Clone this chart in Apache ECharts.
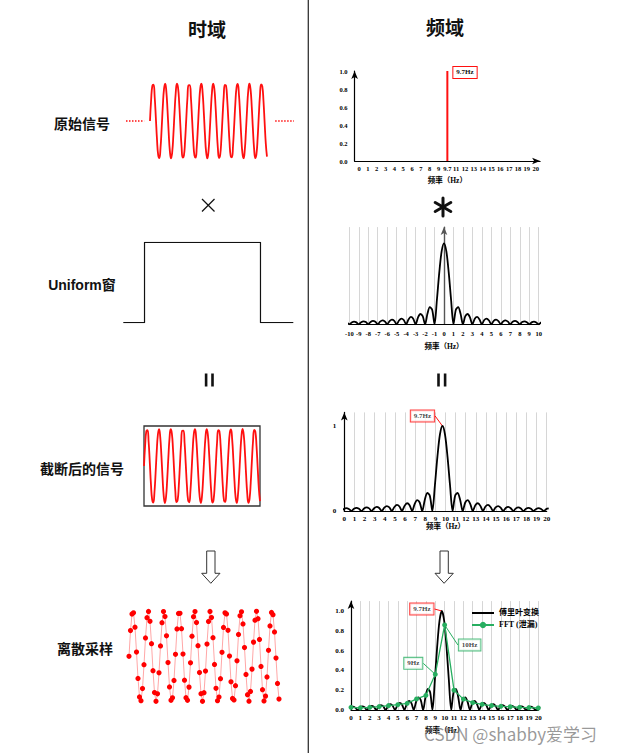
<!DOCTYPE html>
<html>
<head>
<meta charset="utf-8">
<script src="https://cdn.jsdelivr.net/npm/echarts@6/dist/echarts.min.js"></script>
<style>html,body{margin:0;padding:0;background:#fff}#c{width:639px;height:753px}</style>
</head>
<body>
<div id="c"></div>
<script>
// ---------- DATA ----------
// 9.7 Hz signal sampled at 100 Hz over 1 s (101 samples), read from the "离散采样" panel
const signalSamples = [
  0, 0.572, 0.939, 0.967, 0.647, 0.094, -0.493, -0.902, -0.987, -0.716,
  -0.187, 0.409, 0.857, 0.998, 0.778, 0.279, -0.321, -0.805, -1.000, -0.834,
  -0.368, 0.230, 0.746, 0.993, 0.882, 0.454, -0.138, -0.680, -0.977, -0.923,
  -0.536, 0.044, 0.608, 0.953, 0.955, 0.613, 0.050, -0.531, -0.920, -0.979,
  -0.685, -0.144, 0.448, 0.879, 0.994, 0.750, 0.237, -0.362, -0.831, -1.000,
  -0.809, -0.327, 0.273, 0.774, 0.997, 0.861, 0.414, -0.181, -0.712, -0.986,
  -0.905, -0.498, 0.088, 0.642, 0.965, 0.941, 0.577, 0.006, -0.567, -0.937,
  -0.969, -0.652, -0.100, 0.487, 0.899, 0.988, 0.720, 0.194, -0.403, -0.854,
  -0.998, -0.782, -0.285, 0.315, 0.802, 1.000, 0.837, 0.374, -0.224, -0.742,
  -0.992, -0.885, -0.460, 0.132, 0.675, 0.976, 0.925, 0.541, -0.038, -0.603,
  -0.951
];
// dotted "……" continuation of the infinite original signal (sample units)
const leadInX = [-20.5, -5];
const leadOutX = [107, 123];
// Uniform window (sample units) and its level
const windowT = [-18.3, 0, 0, 100, 100, 128.3];
const windowV = [0, 0, 1, 1, 0, 0];

// Spectrum of the original signal
const signalFreq = 9.7;
const spectrumTicks = ['0','1','2','3','4','5','6','7','8','9','9.7','11','12','13','14','15','16','17','18','19','20'];
const lineSpectrum = [0,0,0,0,0,0,0,0,0,0,1,0,0,0,0,0,0,0,0,0,0];

// Spectrum of the uniform window (|sinc|), offset in Hz from the peak
const sincOffset = [
  -10.5,-10.25,-10,-9.75,-9.5,-9.25,-9,-8.75,-8.5,-8.25,-8,-7.75,-7.5,-7.25,-7,-6.75,-6.5,-6.25,-6,-5.75,-5.5,-5.25,-5,
  -4.75,-4.5,-4.25,-4,-3.75,-3.5,-3.25,-3,-2.75,-2.5,-2.25,-2,-1.75,-1.5,-1.25,-1,-0.75,-0.5,-0.25,
  0,
  0.25,0.5,0.75,1,1.25,1.5,1.75,2,2.25,2.5,2.75,3,3.25,3.5,3.75,4,4.25,4.5,4.75,
  5,5.25,5.5,5.75,6,6.25,6.5,6.75,7,7.25,7.5,7.75,8,8.25,8.5,8.75,9,9.25,9.5,9.75,10,10.25,10.5
];
const sincAmp = [
  0.030,0.022,0,0.023,0.034,0.024,0,0.026,0.037,0.027,0,0.029,0.042,0.031,0,0.033,0.049,0.036,0,0.039,0.058,0.043,0,
  0.047,0.071,0.053,0,0.060,0.091,0.069,0,0.082,0.127,0.100,0,0.129,0.212,0.180,0,0.300,0.637,0.900,
  1,
  0.900,0.637,0.300,0,0.180,0.212,0.129,0,0.100,0.127,0.082,0,0.069,0.091,0.060,0,0.053,0.071,0.047,
  0,0.043,0.058,0.039,0,0.036,0.049,0.033,0,0.031,0.042,0.029,0,0.027,0.037,0.026,0,0.024,0.034,0.023,0,0.022,0.030
];

// FFT bins (leakage)
const fftFreq = [0,1,2,3,4,5,6,7,8,9,10,11,12,13,14,15,16,17,18,19,20];
const fftAmp = [0.027,0.022,0.027,0.034,0.044,0.054,0.067,0.112,0.148,0.36,0.859,0.200,0.110,0.074,0.057,0.045,0.037,0.033,0.027,0.024,0.020];

// ---------- CHART ----------
const chart = echarts.init(document.getElementById('c'), null, {renderer: 'svg', width: 639, height: 753});
const serif = "'Liberation Serif','Times New Roman','Noto Sans CJK SC',serif";
const sans = "'Liberation Sans','Noto Sans CJK SC',sans-serif";
const cjk = "'Noto Sans CJK SC','Liberation Sans',sans-serif";
const RED = '#ff1010';
const GREEN = '#27ae60';

const samplePairs = signalSamples.map((v, i) => [i, v]);
const sincPairs = sincOffset.map((o, i) => [o, sincAmp[i]]);
const shiftedSinc = sincOffset.map((o, i) => [signalFreq + o, sincAmp[i]]);
const fftPairs = fftFreq.map((f, i) => [f, fftAmp[i]]);

const hidden = {show: false};
function hiddenAxis(gi, min, max) {
  return {gridIndex: gi, type: 'value', min: min, max: max, show: false, splitLine: hidden};
}
const tickFont = {fontFamily: serif, fontWeight: 'bold', color: '#000'};
const nameFont = {fontFamily: serif, fontWeight: 'bold', color: '#000', fontSize: 7.5};
const arrowLine = (color, w) => ({show: true, onZero: false, lineStyle: {color: color, width: w}, symbol: ['none', 'arrow'], symbolSize: [5, 8]});
const gray = {show: true, lineStyle: {color: '#d6d6d6', width: 1}};

function boxLabel(text, color) {
  return {
    show: true, position: 'inside', formatter: text,
    fontFamily: serif, fontWeight: 'bold', fontSize: 7, color: '#111',
    backgroundColor: '#fff', borderColor: color, borderWidth: 1, padding: [2, 3]
  };
}

const grids = [
  {left: 126, top: 83.5, width: 168, height: 75},
  {left: 123.3, top: 242.3, width: 170, height: 80.4},
  {left: 144, top: 426, width: 116, height: 80, show: true, borderColor: '#333', borderWidth: 1.3, backgroundColor: 'transparent'},
  {left: 129, top: 611.3, width: 150, height: 90},
  {left: 354.6, top: 71, width: 185.5, height: 90},
  {left: 349.3, top: 227.1, width: 189.4, height: 97.2},
  {left: 344.3, top: 412.4, width: 202.4, height: 98.6},
  {left: 351, top: 601.1, width: 187.3, height: 108.9}
].map(g => Object.assign({outerBoundsMode: 'none', containLabel: false}, g));

const option = {
  animation: false,
  backgroundColor: '#fff',
  grid: grids,
  legend: {
    left: 466, top: 604, orient: 'vertical', itemWidth: 22, itemHeight: 8, itemGap: 4,
    textStyle: {fontFamily: serif, fontWeight: 'bold', fontSize: 8, color: '#000'},
    data: [
      {name: '傅里叶变换', itemStyle: {opacity: 0}},
      {name: 'FFT (泄漏)'}
    ]
  },
  xAxis: [
    hiddenAxis(0, -20.5, 123.1),
    hiddenAxis(1, -18.3, 128.3),
    hiddenAxis(2, 0, 100),
    hiddenAxis(3, 0, 100),
    {gridIndex: 4, type: 'category', data: spectrumTicks, boundaryGap: true,
     axisLine: arrowLine('#000', 1.2), axisTick: hidden, splitLine: hidden,
     axisLabel: Object.assign({interval: 0, fontSize: 6.5, margin: 4}, tickFont),
     name: '频率（Hz）', nameLocation: 'middle', nameGap: 16, nameTextStyle: nameFont},
    {gridIndex: 5, type: 'value', min: -10, max: 10, interval: 1,
     axisLine: {show: true, onZero: false, lineStyle: {color: '#000', width: 1.2}}, axisTick: hidden, splitLine: gray,
     axisLabel: Object.assign({fontSize: 6.5, margin: 6}, tickFont),
     name: '频率（Hz）', nameLocation: 'middle', nameGap: 18, nameTextStyle: nameFont},
    {gridIndex: 6, type: 'value', min: 0, max: 20, interval: 1,
     axisLine: {show: true, onZero: false, lineStyle: {color: '#000', width: 1.2}}, axisTick: hidden, splitLine: gray,
     axisLabel: Object.assign({fontSize: 7, margin: 4}, tickFont),
     name: '频率（Hz）', nameLocation: 'middle', nameGap: 11, nameTextStyle: nameFont},
    {gridIndex: 7, type: 'value', min: 0, max: 20, interval: 1,
     axisLine: {show: true, onZero: false, lineStyle: {color: '#000', width: 1.2}}, axisTick: hidden, splitLine: gray,
     axisLabel: Object.assign({fontSize: 7, margin: 4}, tickFont),
     name: '频率（Hz）', nameLocation: 'middle', nameGap: 17, nameTextStyle: nameFont}
  ],
  yAxis: [
    hiddenAxis(0, -1, 1),
    hiddenAxis(1, 0, 1),
    hiddenAxis(2, -1.08, 1.08),
    hiddenAxis(3, -1, 1),
    {gridIndex: 4, type: 'value', min: 0, max: 1, interval: 0.2,
     axisLine: arrowLine('#000', 1.2), axisTick: hidden, splitLine: hidden,
     axisLabel: Object.assign({fontSize: 6.5, margin: 7, formatter: v => v.toFixed(1)}, tickFont)},
    {gridIndex: 5, type: 'value', min: 0, max: 1.2,
     axisLine: {show: true, onZero: true, lineStyle: {color: '#555', width: 1.4}, symbol: ['none', 'arrow'], symbolSize: [5, 8]},
     axisTick: hidden, splitLine: hidden, axisLabel: hidden},
    {gridIndex: 6, type: 'value', min: 0, max: 1.16, interval: 1,
     axisLine: arrowLine('#000', 1.2), axisTick: hidden, splitLine: hidden,
     axisLabel: Object.assign({fontSize: 7, margin: 8, formatter: v => (Math.abs(v - Math.round(v)) < 1e-6 ? String(Math.round(v)) : '')}, tickFont)},
    {gridIndex: 7, type: 'value', min: 0, max: 1.1, interval: 0.2,
     axisLine: arrowLine('#000', 1.2), axisTick: hidden, splitLine: hidden,
     axisLabel: Object.assign({fontSize: 7, margin: 7, formatter: v => (v > 1.05 ? '' : v.toFixed(1))}, tickFont)}
  ],
  series: [
    // original signal
    {type: 'line', xAxisIndex: 0, yAxisIndex: 0, data: samplePairs, smooth: 0.5, showSymbol: false,
     lineStyle: {color: RED, width: 1.8}},
    {type: 'line', xAxisIndex: 0, yAxisIndex: 0, data: leadInX.map(x => [x, 0]), showSymbol: false,
     lineStyle: {color: RED, width: 1.6, type: [1.5, 1.5]}},
    {type: 'line', xAxisIndex: 0, yAxisIndex: 0, data: leadOutX.map(x => [x, 0]), showSymbol: false,
     lineStyle: {color: RED, width: 1.6, type: [1.5, 1.5]}},
    // uniform window
    {type: 'line', xAxisIndex: 1, yAxisIndex: 1, data: windowT.map((t, i) => [t, windowV[i]]), showSymbol: false,
     lineStyle: {color: '#111', width: 1.2}},
    // truncated signal
    {type: 'line', xAxisIndex: 2, yAxisIndex: 2, data: samplePairs, smooth: 0.5, showSymbol: false,
     lineStyle: {color: RED, width: 1.8}},
    // sampled signal
    {type: 'line', xAxisIndex: 3, yAxisIndex: 3, data: samplePairs, symbol: 'circle', symbolSize: 5.2,
     lineStyle: {color: 'rgba(255,0,0,0.35)', width: 1}, itemStyle: {color: '#ff0000'}},
    // spectrum of original signal
    {type: 'bar', xAxisIndex: 4, yAxisIndex: 4, barWidth: 2, itemStyle: {color: RED},
     data: lineSpectrum.map((v, i) => v > 0 ? {value: v, label: {show: true, position: [7, -4], formatter: signalFreq + 'Hz',
       fontFamily: serif, fontWeight: 'bold', fontSize: 7, color: '#111', backgroundColor: '#fff',
       borderColor: RED, borderWidth: 1, padding: [2, 3]}} : v)},
    // window spectrum
    {type: 'line', xAxisIndex: 5, yAxisIndex: 5, data: sincPairs, smooth: 0.3, showSymbol: false,
     lineStyle: {color: '#000', width: 1.8}},
    // truncated spectrum
    {type: 'line', xAxisIndex: 6, yAxisIndex: 6, data: shiftedSinc, smooth: 0.3, showSymbol: false,
     lineStyle: {color: '#000', width: 1.8}},
    {type: 'scatter', xAxisIndex: 6, yAxisIndex: 6, data: [[signalFreq, 1]], symbolSize: 0.1,
     itemStyle: {color: 'rgba(0,0,0,0)'}, silent: true,
     label: boxLabel(signalFreq + 'Hz', RED), labelLayout: {dx: -20, dy: -10},
     labelLine: {show: true, lineStyle: {color: RED, width: 1}}},
    // sampled spectrum
    {name: '傅里叶变换', type: 'line', xAxisIndex: 7, yAxisIndex: 7, data: shiftedSinc, smooth: 0.3, symbol: 'none',
     lineStyle: {color: '#000', width: 1.8}, itemStyle: {color: '#000'}},
    {name: 'FFT (泄漏)', type: 'line', xAxisIndex: 7, yAxisIndex: 7, data: fftPairs, symbol: 'circle', symbolSize: 5,
     lineStyle: {color: GREEN, width: 1.3}, itemStyle: {color: GREEN}},
    {type: 'scatter', xAxisIndex: 7, yAxisIndex: 7, data: [[signalFreq, 1]], symbolSize: 0.1,
     itemStyle: {color: 'rgba(0,0,0,0)'}, silent: true,
     label: boxLabel(signalFreq + 'Hz', RED), labelLayout: {dx: -20, dy: -2},
     labelLine: {show: true, lineStyle: {color: RED, width: 1}}},
    {type: 'scatter', xAxisIndex: 7, yAxisIndex: 7, data: [[fftFreq[10], fftAmp[10]]], symbolSize: 0.1,
     itemStyle: {color: 'rgba(0,0,0,0)'}, silent: true,
     label: boxLabel('10Hz', GREEN), labelLayout: {dx: 25, dy: 20},
     labelLine: {show: true, lineStyle: {color: GREEN, width: 1}}},
    {type: 'scatter', xAxisIndex: 7, yAxisIndex: 7, data: [[fftFreq[9], fftAmp[9]]], symbolSize: 0.1,
     itemStyle: {color: 'rgba(0,0,0,0)'}, silent: true,
     label: boxLabel('9Hz', GREEN), labelLayout: {dx: -22, dy: -11},
     labelLine: {show: true, lineStyle: {color: GREEN, width: 1}}}
  ],
  graphic: [
    {type: 'line', shape: {x1: 308.3, y1: 0, x2: 308.3, y2: 753}, style: {stroke: '#333', lineWidth: 1.3}},
    {type: 'text', style: {text: '时域', x: 207, y: 28, font: 'bold 19px ' + cjk, fill: '#111', align: 'center', verticalAlign: 'middle'}},
    {type: 'text', style: {text: '频域', x: 445, y: 26, font: 'bold 19px ' + cjk, fill: '#111', align: 'center', verticalAlign: 'middle'}},
    {type: 'text', style: {text: '原始信号', x: 82, y: 123, font: 'bold 14px ' + cjk, fill: '#111', align: 'center', verticalAlign: 'middle'}},
    {type: 'text', style: {text: 'Uniform窗', x: 82, y: 285, font: 'bold 14px ' + sans, fill: '#111', align: 'center', verticalAlign: 'middle'}},
    {type: 'text', style: {text: '截断后的信号', x: 82, y: 468, font: 'bold 14px ' + cjk, fill: '#111', align: 'center', verticalAlign: 'middle'}},
    {type: 'text', style: {text: '离散采样', x: 85, y: 648, font: 'bold 14px ' + cjk, fill: '#111', align: 'center', verticalAlign: 'middle'}},
    // ×
    {type: 'line', shape: {x1: 202, y1: 199, x2: 214.5, y2: 211.5}, style: {stroke: '#111', lineWidth: 1.3}},
    {type: 'line', shape: {x1: 214.5, y1: 199, x2: 202, y2: 211.5}, style: {stroke: '#111', lineWidth: 1.3}},
    // * (convolution)
    {type: 'line', shape: {x1: 443, y1: 198, x2: 443, y2: 216}, style: {stroke: '#111', lineWidth: 3, lineCap: 'round'}},
    {type: 'line', shape: {x1: 435.2, y1: 202.5, x2: 450.8, y2: 211.5}, style: {stroke: '#111', lineWidth: 3, lineCap: 'round'}},
    {type: 'line', shape: {x1: 435.2, y1: 211.5, x2: 450.8, y2: 202.5}, style: {stroke: '#111', lineWidth: 3, lineCap: 'round'}},
    // = (rotated bars)
    {type: 'rect', shape: {x: 204.8, y: 373.5, width: 2.6, height: 13}, style: {fill: '#111'}},
    {type: 'rect', shape: {x: 211.2, y: 373.5, width: 2.6, height: 13}, style: {fill: '#111'}},
    {type: 'rect', shape: {x: 437.2, y: 373.5, width: 2.6, height: 13}, style: {fill: '#111'}},
    {type: 'rect', shape: {x: 443.8, y: 373.5, width: 2.6, height: 13}, style: {fill: '#111'}},
    // hollow down arrows
    {type: 'polygon', shape: {points: [[206.7,551],[215,551],[215,573.3],[220,573.3],[210.8,583.3],[201.7,573.3],[206.7,573.3]]},
     style: {fill: '#fff', stroke: '#333', lineWidth: 1}},
    {type: 'polygon', shape: {points: [[440,551],[448.3,551],[448.3,573.3],[453.3,573.3],[444.1,583.3],[435,573.3],[440,573.3]]},
     style: {fill: '#fff', stroke: '#333', lineWidth: 1}},
    // watermark
    {type: 'text', z: 100, style: {text: 'CSDN @shabby爱学习', x: 424, y: 733, font: '17px ' + cjk, fill: 'rgba(120,120,120,0.75)', align: 'left', verticalAlign: 'middle'}}
  ]
};
chart.setOption(option);
</script>
</body>
</html>
